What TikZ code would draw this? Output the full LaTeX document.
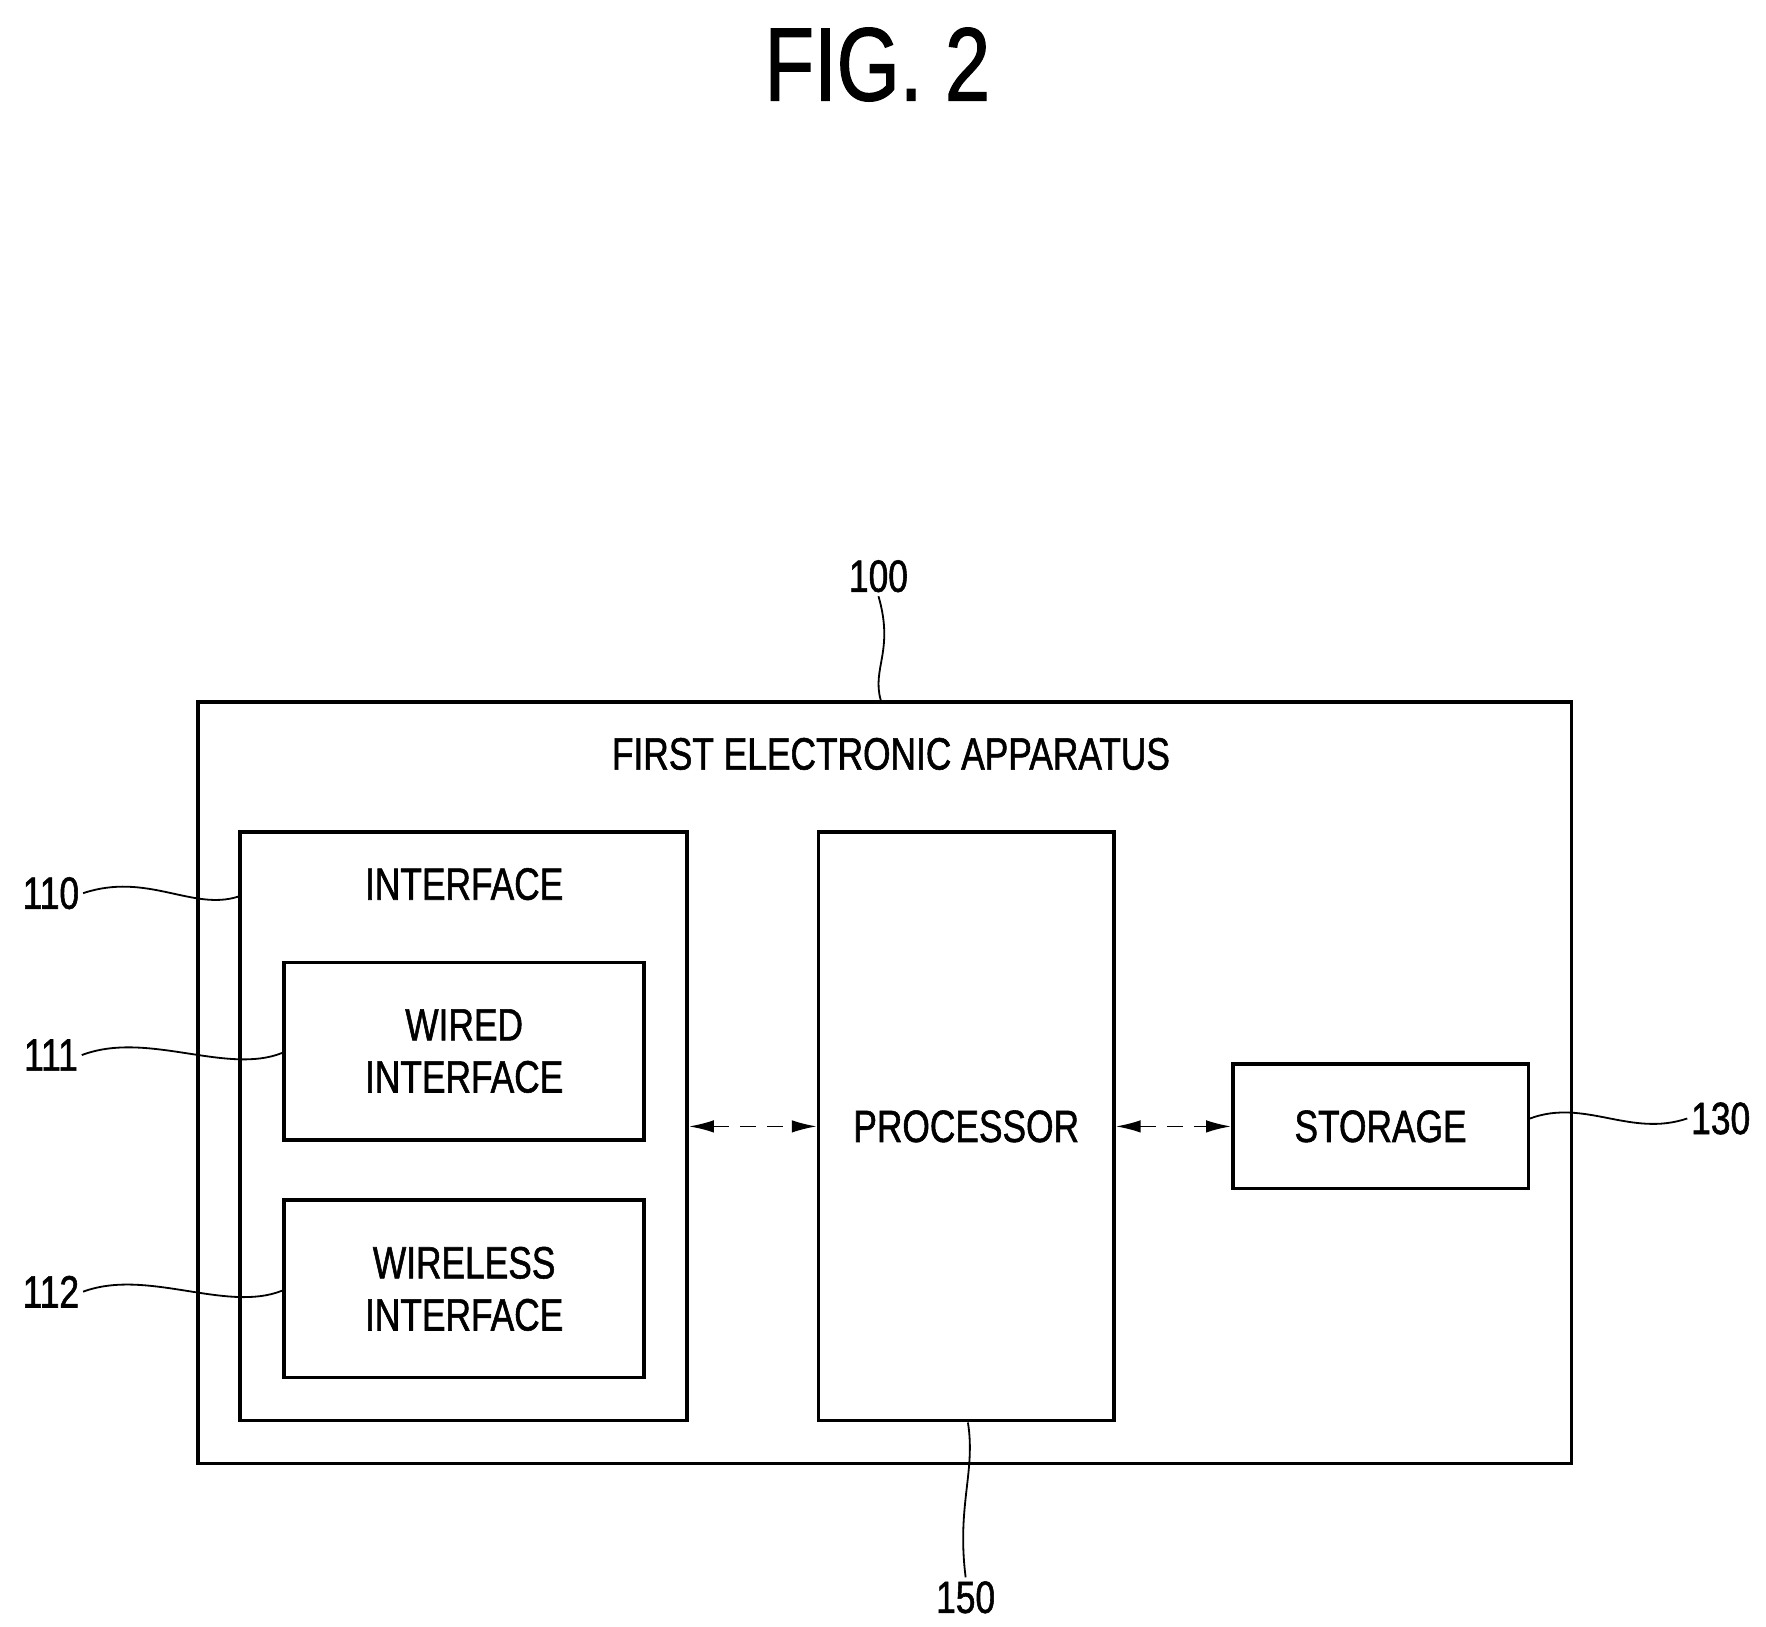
\documentclass[tikz,border=0pt]{standalone}
\usepackage{fontspec}
\setmainfont[FakeStretch=0.78, FakeBold=1.2, AutoFakeBold=1.2]{Liberation Sans}
\usepackage{tikz}
\tikzset{
  label_font/.style = {font=\fontsize{40}{46}\selectfont\bfseries},
  block_line/.style = {line width=3pt}
}
\tikzset{
  block/.style = {draw, block_line, inner sep=0},
  caption/.style = {label_font, align=center},
  leader/.style = {line width=1.6pt},
  link/.style = {line width=1.6pt, dashed, dash pattern=on 14pt off 10pt, {Latex[length=22pt,width=11pt]}-{Latex[length=22pt,width=11pt]}}
}
\usetikzlibrary{arrows.meta, positioning, calc}

\begin{document}
\begin{tikzpicture}[x=1pt, y=-1pt]
        \useasboundingbox (0,0) rectangle (1560,1437);

        % Title
        \node[font=\fontsize{92}{100}\selectfont\bfseries] (fig) at (775,57) {FIG. 2};

        % Blocks
        \node[block, minimum width=1213, minimum height=673] (app) at (781.5,956.5) {};
        \node[caption] (app_t) at (787,666) {FIRST ELECTRONIC APPARATUS};
        \node[block, minimum width=395, minimum height=520] (intf) at (409.5,995) {};
        \node[caption] (intf_t) at (410,781) {INTERFACE};
        \node[block, caption, minimum width=318, minimum height=157] (wired) at (410,928.5) {WIRED\\INTERFACE};
        \node[block, caption, minimum width=318, minimum height=157] (wless) at (410,1138.5) {WIRELESS\\INTERFACE};
        \node[block, caption, minimum width=261, minimum height=520] (proc) at (853.5,995) {PROCESSOR};
        \node[block, caption, minimum width=261, minimum height=110] (stor) at (1219.5,995) {STORAGE};

        % Reference numerals
        \node[caption] (n100) at (776,509) {100};
        \node[caption] (n110) at (45,789) {110};
        \node[caption] (n111) at (45,932) {111};
        \node[caption] (n112) at (45,1141) {112};
        \node[caption] (n130) at (1520,988) {130};
        \node[caption] (n150) at (853,1411) {150};

        % Arrows and lines
        \draw[link] (intf.east |- proc.west) -- (proc.west);
        \draw[link] (proc.east |- stor.west) -- (stor.west);

        \draw[leader] (n100.south) .. controls (790,575) and (770,590) .. (app.north -| 778,0);
        \draw[leader] (n110.east) .. controls (130,770) and (170,805) .. (intf.west |- 0,792);
        \draw[leader] (n111.east) .. controls (130,910) and (200,950) .. (wired.west |- 0,930);
        \draw[leader] (n112.east) .. controls (130,1120) and (200,1160) .. (wless.west |- 0,1140);
        \draw[leader] (n130.west) .. controls (1440,1005) and (1400,970) .. (stor.east |- 0,988);
        \draw[leader] (n150.north) .. controls (845,1330) and (862,1300) .. (proc.south -| 855,0);
\end{tikzpicture}
\end{document}
